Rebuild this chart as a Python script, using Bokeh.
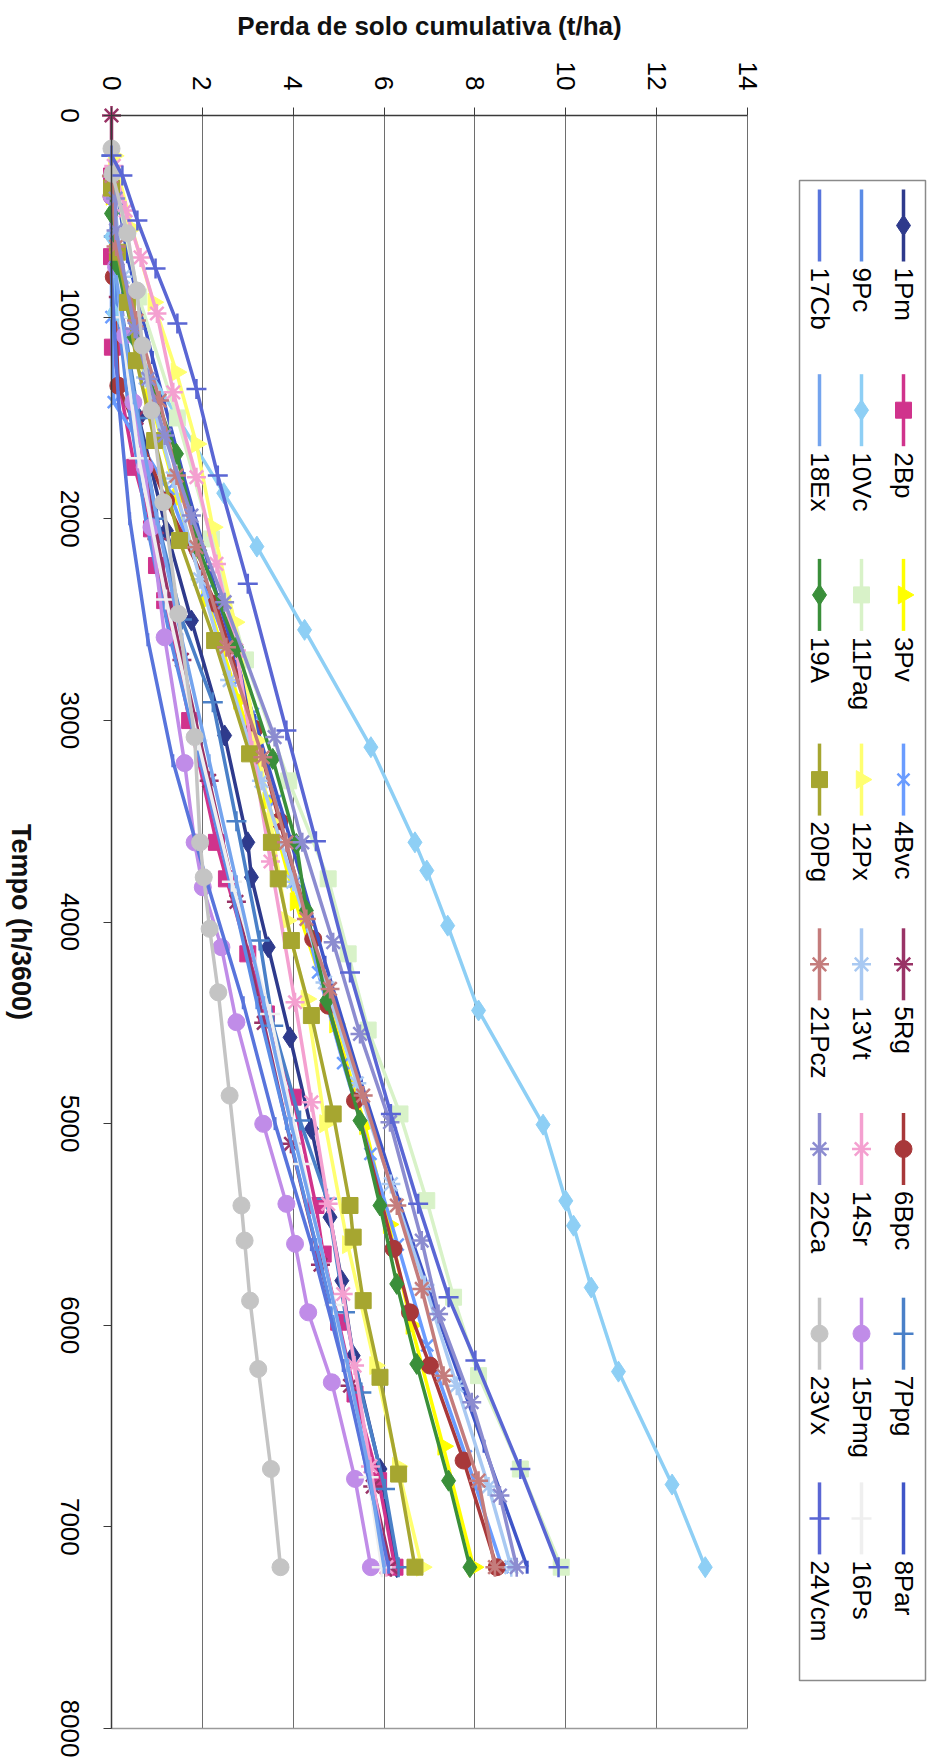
import math
from bokeh.plotting import figure
from bokeh.models import Range1d, FixedTicker, LinearAxis
from bokeh.embed import file_html
from bokeh.resources import INLINE
from bokeh.core.properties import value

# ---------------- data ----------------
NAMES = ["1Pm", "2Bp", "3Pv", "4Bvc", "5Rg", "6Bpc", "7Ppg", "8Par",
         "9Pc", "10Vc", "11Pag", "12Px", "13Vt", "14Sr", "15Pmg", "16Ps",
         "17Cb", "18Ex", "19A", "20Pg", "21Pcz", "22Ca", "23Vx", "24Vcm"]

T01 = [300, 700, 1100, 1500, 2059, 2505, 3075, 3605, 3778, 4125, 4572, 5026, 5464, 5779, 6151, 6713, 7200]
V01 = [0.0, 0.05, 0.25, 0.6, 1.21, 1.76, 2.49, 3.0, 3.08, 3.45, 3.93, 4.40, 4.81, 5.07, 5.32, 5.91, 6.28]
T02 = [300, 700, 1149, 1745, 2050, 2232, 2406, 3001, 3605, 3786, 4158, 4456, 4869, 5406, 5647, 5985, 6341, 6771, 7200]
V02 = [0.0, 0.0, 0.02, 0.51, 0.88, 0.99, 1.17, 1.72, 2.31, 2.53, 3.0, 3.41, 4.0, 4.5, 4.66, 5.0, 5.36, 5.88, 6.24]
T03 = [400, 900, 1400, 1900, 2400, 2900, 3400, 3900, 4506, 5010, 5500, 6000, 6600, 7200]
V03 = [0.0, 0.3, 0.85, 1.45, 2.1, 2.8, 3.45, 4.05, 4.92, 5.58, 6.1, 6.6, 7.3, 7.97]
T04 = [400, 1000, 1422, 1852, 2356, 2794, 2968, 3400, 3800, 4250, 4700, 5150, 5600, 6100, 6650, 7200]
V04 = [0.0, 0.0, 0.05, 1.25, 2.09, 2.82, 3.11, 3.6, 4.05, 4.55, 5.1, 5.7, 6.3, 6.95, 7.8, 8.6]
T05 = [0, 300, 900, 1500, 2100, 2700, 3300, 3900, 4500, 5100, 5700, 6300, 6800, 7200]
V05 = [0.0, 0.0, 0.15, 0.55, 1.0, 1.55, 2.15, 2.75, 3.35, 3.95, 4.6, 5.25, 5.75, 6.15]
T06 = [400, 800, 1340, 1910, 2422, 3042, 3500, 4084, 4415, 4886, 5621, 5936, 6200, 6671, 7200]
V06 = [0.0, 0.05, 0.15, 1.2, 2.3, 3.15, 3.7, 4.44, 4.77, 5.36, 6.21, 6.57, 7.01, 7.75, 8.48]
T07 = [200, 600, 1000, 1500, 2000, 2500, 2910, 3500, 4092, 4514, 4985, 5373, 5936, 6333, 6812, 7200]
V07 = [0.0, 0.05, 0.25, 0.6, 1.0, 1.55, 2.23, 2.75, 3.26, 3.56, 4.15, 4.74, 5.14, 5.5, 6.02, 6.32]
T08 = [200, 700, 1200, 1800, 2400, 3000, 3600, 4200, 4800, 5400, 6000, 6600, 7200]
V08 = [0.0, 0.35, 0.9, 1.6, 2.35, 3.15, 3.95, 4.7, 5.5, 6.35, 7.25, 8.2, 9.15]
T09 = [200, 800, 1400, 2000, 2600, 3200, 3800, 4400, 5000, 5600, 6200, 6700, 7200]
V09 = [0.0, 0.05, 0.35, 0.75, 1.3, 1.95, 2.6, 3.2, 3.85, 4.5, 5.15, 5.6, 6.05]
T10 = [300, 600, 980, 1873, 2138, 2551, 3133, 3605, 3745, 4018, 4439, 5005, 5383, 5506, 5813, 6230, 6790, 7200]
V10 = [0.0, 0.0, 0.05, 2.47, 3.2, 4.25, 5.71, 6.68, 6.94, 7.4, 8.08, 9.5, 10.0, 10.17, 10.56, 11.16, 12.34, 13.07]
T11 = [300, 900, 1500, 2100, 2700, 3300, 3786, 4158, 4536, 4952, 5382, 5861, 6250, 6713, 7200]
V11 = [0.05, 0.6, 1.45, 2.2, 2.95, 3.9, 4.77, 5.21, 5.65, 6.35, 6.94, 7.53, 8.08, 9.0, 9.9]
T12 = [200, 560, 926, 1273, 1629, 2042, 2513, 3100, 3500, 3993, 4382, 5000, 5600, 6200, 6700, 7200]
V12 = [0.05, 0.45, 0.92, 1.43, 1.87, 2.23, 2.71, 3.2, 3.5, 3.85, 4.29, 4.7, 5.2, 5.8, 6.3, 6.83]
T13 = [300, 800, 1300, 1800, 2300, 2800, 3300, 3800, 4300, 4800, 5300, 5800, 6300, 6800, 7200]
V13 = [0.0, 0.25, 0.75, 1.35, 1.95, 2.6, 3.3, 4.0, 4.7, 5.4, 6.15, 6.9, 7.6, 8.3, 8.8]
T14 = [250, 471, 704, 982, 1373, 1794, 2224, 2654, 3150, 3700, 4398, 4894, 5398, 5845, 6200, 6700, 7200]
V14 = [0.05, 0.31, 0.64, 1.0, 1.36, 1.87, 2.31, 2.75, 3.1, 3.5, 4.04, 4.40, 4.77, 5.1, 5.35, 5.7, 6.05]
T15 = [400, 750, 1092, 1422, 1745, 2042, 2588, 3212, 3605, 3828, 4125, 4497, 5001, 5398, 5596, 5936, 6283, 6762, 7200]
V15 = [0.0, 0.1, 0.29, 0.48, 0.73, 0.88, 1.17, 1.61, 1.83, 2.01, 2.42, 2.75, 3.34, 3.85, 4.04, 4.33, 4.85, 5.36, 5.71]
T16 = [300, 1000, 1700, 2400, 3100, 3800, 4456, 5200, 5900, 6754, 7200]
V16 = [0.0, 0.2, 0.6, 1.2, 1.9, 2.65, 3.49, 4.2, 4.9, 5.66, 5.95]
T17 = [200, 800, 1400, 2000, 2600, 3200, 3800, 4400, 5000, 5600, 6200, 6700, 7200]
V17 = [0.0, 0.0, 0.15, 0.4, 0.8, 1.35, 2.1, 2.9, 3.6, 4.4, 5.1, 5.6, 6.1]
T18 = [200, 800, 1400, 2000, 2600, 3200, 3800, 4400, 5000, 5600, 6200, 6700, 7200]
V18 = [0.0, 0.1, 0.5, 1.0, 1.55, 2.15, 2.75, 3.35, 3.95, 4.6, 5.2, 5.65, 6.0]
T19 = [362, 486, 739, 1100, 1678, 2158, 2637, 3191, 3613, 3943, 4390, 4985, 5406, 5795, 6192, 6771, 7200]
V19 = [0.0, 0.0, 0.12, 0.5, 1.43, 1.94, 2.75, 3.55, 4.07, 4.29, 4.74, 5.47, 5.91, 6.28, 6.72, 7.42, 7.89]
T20 = [360, 678, 927, 1216, 1612, 2108, 2604, 3166, 3605, 3786, 4092, 4464, 4952, 5406, 5563, 5878, 6258, 6738, 7200]
V20 = [0.0, 0.13, 0.35, 0.55, 0.95, 1.5, 2.27, 3.04, 3.52, 3.67, 3.96, 4.40, 4.88, 5.25, 5.32, 5.54, 5.91, 6.32, 6.68]
T21 = [300, 650, 1017, 1414, 1786, 2141, 2637, 3183, 3605, 3985, 4332, 4861, 5406, 5820, 6250, 6771, 7200]
V21 = [0.0, 0.1, 0.55, 1.06, 1.43, 1.87, 2.53, 3.33, 3.85, 4.29, 4.81, 5.54, 6.28, 6.83, 7.31, 8.08, 8.44]
T22 = [412, 570, 1058, 1306, 1587, 1984, 2414, 3083, 3605, 4100, 4555, 4993, 5580, 5944, 6382, 6845, 7200]
V22 = [0.09, 0.1, 0.51, 0.81, 1.17, 1.76, 2.49, 3.59, 4.2, 4.88, 5.47, 6.13, 6.83, 7.2, 7.93, 8.55, 8.92]
T23 = [164, 289, 584, 868, 1141, 1463, 1918, 2472, 3083, 3605, 3778, 4034, 4349, 4861, 5406, 5580, 5878, 6217, 6713, 7200]
V23 = [0.0, 0.02, 0.35, 0.56, 0.68, 0.88, 1.14, 1.47, 1.83, 1.95, 2.03, 2.16, 2.35, 2.6, 2.86, 2.93, 3.05, 3.23, 3.51, 3.72]
T24 = [198, 298, 521, 759, 1032, 1356, 1786, 2323, 3050, 3600, 4250, 4952, 5398, 5861, 6175, 6713, 7200]
V24 = [0.0, 0.24, 0.57, 0.97, 1.45, 1.87, 2.34, 3.0, 3.85, 4.5, 5.25, 6.15, 6.75, 7.42, 8.01, 9.0, 9.84]

TIMES = [T01, T02, T03, T04, T05, T06, T07, T08, T09, T10, T11, T12,
         T13, T14, T15, T16, T17, T18, T19, T20, T21, T22, T23, T24]
VALUES = [V01, V02, V03, V04, V05, V06, V07, V08, V09, V10, V11, V12,
          V13, V14, V15, V16, V17, V18, V19, V20, V21, V22, V23, V24]

X_TICKS = [0, 2, 4, 6, 8, 10, 12, 14]
Y_TICKS = [0, 1000, 2000, 3000, 4000, 5000, 6000, 7000, 8000]
X_TITLE = "Perda de solo cumulativa (t/ha)"
Y_TITLE = "Tempo (h/3600)"

# ---------------- styles ----------------
COLORS = ["#2E3A8C", "#D0338C", "#FFFF00", "#6A9CFF", "#993366", "#A8383A",
          "#4A80C8", "#3F55C8", "#5B8CE6", "#8ECFF5", "#D8F2C8", "#FFFF70",
          "#A9C9F2", "#F4A0D0", "#C08CE8", "#EFEFEF", "#5874DC", "#74A4EE",
          "#3A8F3A", "#A6A630", "#C47C7C", "#8C8CD0", "#C4C4C4", "#5A66D4"]
MARKERS = ["diamond", "square", "triangle", "x", "asterisk", "circle",
           "cross", "dash", "dash", "diamond", "square", "triangle",
           "asterisk", "asterisk", "circle", "cross", "dash", "dash",
           "diamond", "square", "asterisk", "asterisk", "circle", "cross"]
SIZES = {"diamond": 21, "square": 16, "triangle": 18, "x": 17, "asterisk": 19,
         "circle": 17, "cross": 20, "dash": 13}
ANGLES = {"triangle": -math.pi / 2, "dash": math.pi / 2}
LINE_MARKERS = {"x", "asterisk", "cross", "dash"}

FONT = "Liberation Sans"
TICK_FS = 26

# ---------------- layout (page pixels; the frame covers the whole canvas) ----------------
CANVAS_W, CANVAS_H = 931, 1760
PLOT_L, PLOT_T = 111, 115           # page position of value 0 / time 0
PLOT_W, PLOT_H = 636, 1613          # plot area (0..14, 0..8000)
PX_PER_V = PLOT_W / X_TICKS[-1]
PX_PER_T = PLOT_H / Y_TICKS[-1]

p = figure(frame_width=CANVAS_W, frame_height=CANVAS_H,
           min_border_left=0, min_border_top=0, min_border_right=0, min_border_bottom=0,
           x_range=Range1d(-PLOT_L / PX_PER_V, (CANVAS_W - PLOT_L) / PX_PER_V),
           y_range=Range1d((CANVAS_H - PLOT_T) / PX_PER_T, -PLOT_T / PX_PER_T),
           x_axis_location="above",
           output_backend="svg", toolbar_location=None)
p.background_fill_color = "white"
p.border_fill_color = "white"
p.outline_line_color = None
p.extra_x_ranges = {"px": Range1d(0, CANVAS_W)}
p.extra_y_ranges = {"py": Range1d(CANVAS_H, 0)}
R = dict(x_range_name="px", y_range_name="py")

# vertical grid lines, limited to the plot area
p.ygrid.grid_line_color = None
grid_ok = True
try:
    p.xgrid.cross_bounds = (Y_TICKS[0], Y_TICKS[-1])
except Exception:
    grid_ok = False
if grid_ok:
    p.xgrid.ticker = FixedTicker(ticks=X_TICKS)
    p.xgrid.grid_line_color = "#6E6E6E"
    p.xgrid.grid_line_width = 1
else:
    p.xgrid.grid_line_color = None
    p.segment(x0=X_TICKS, y0=[Y_TICKS[0]] * len(X_TICKS), x1=X_TICKS,
              y1=[Y_TICKS[-1]] * len(X_TICKS), line_color="#6E6E6E", line_width=1)

# bottom border of the plot area
p.segment(x0=[X_TICKS[0]], y0=[Y_TICKS[-1]], x1=[X_TICKS[-1]], y1=[Y_TICKS[-1]],
          line_color="#9A9A9A", line_width=1.5)

# top axis (Perda de solo), pinned at time 0
xa = p.xaxis[0]
xa.fixed_location = Y_TICKS[0]
xa.ticker = FixedTicker(ticks=X_TICKS)
xa.bounds = (X_TICKS[0], X_TICKS[-1])
xa.major_label_orientation = -math.pi / 2
xa.major_label_text_font = FONT
xa.major_label_text_font_size = f"{TICK_FS}px"
xa.major_label_text_color = "black"
xa.major_label_standoff = 17

# left axis (Tempo): line + tick marks, pinned at value 0
ya = p.yaxis[0]
ya.fixed_location = X_TICKS[0]
ya.ticker = FixedTicker(ticks=Y_TICKS)
ya.bounds = (Y_TICKS[0], Y_TICKS[-1])
ya.major_label_text_font_size = "1px"
ya.major_label_text_color = None
ya.major_label_standoff = 0

for ax in (xa, ya):
    ax.axis_line_color = "#3A3A3A"
    ax.axis_line_width = 1.5
    ax.major_tick_line_color = "#3A3A3A"
    ax.major_tick_out = 8
    ax.major_tick_in = 0
    ax.minor_tick_line_color = None

# Tempo tick labels, centred on their ticks (rotated text is end-anchored)
DIGIT_W = 0.556 * TICK_FS
LBL_TICKS, LBL_OVR = [], {}
for v in Y_TICKS:
    s = str(v)
    tv = round(v + len(s) * DIGIT_W / 2 / PX_PER_T, 3)
    LBL_TICKS.append(tv)
    LBL_OVR[tv] = s
yl = LinearAxis(ticker=FixedTicker(ticks=LBL_TICKS), major_label_overrides=LBL_OVR,
                fixed_location=X_TICKS[0])
yl.axis_line_color = None
yl.major_tick_line_color = None
yl.minor_tick_line_color = None
yl.major_tick_out = 0
yl.major_tick_in = 0
yl.major_label_orientation = -math.pi / 2
yl.major_label_text_font = FONT
yl.major_label_text_font_size = f"{TICK_FS}px"
yl.major_label_text_color = "black"
yl.major_label_standoff = 42
p.add_layout(yl, "left")

# axis titles
p.text(x=[PLOT_L + PLOT_W / 2], y=[25], text=[X_TITLE], text_align="center",
       text_baseline="middle", text_font=value(FONT), text_font_style="bold",
       text_font_size="26px", text_color="#111111", **R)
p.text(x=[20], y=[PLOT_T + PLOT_H / 2], text=[Y_TITLE], angle=-math.pi / 2,
       text_align="center", text_baseline="middle", text_font=value(FONT),
       text_font_style="bold", text_font_size="27px", text_color="#111111", **R)

# series
for i in range(24):
    c = COLORS[i]
    m = MARKERS[i]
    p.line(x=VALUES[i], y=TIMES[i], line_color=c, line_width=3.5)
    if m in LINE_MARKERS:
        p.scatter(x=VALUES[i], y=TIMES[i], marker=m, size=SIZES[m],
                  angle=ANGLES.get(m, 0.0), line_color=c,
                  line_width=3 if m == "dash" else 2.5)
    else:
        p.scatter(x=VALUES[i], y=TIMES[i], marker=m, size=SIZES[m],
                  angle=ANGLES.get(m, 0.0), fill_color=c, line_color=c,
                  line_width=1)

# ---------------- legend (rotated, drawn in page-pixel coordinates) ----------------
p.quad(left=[799], right=[925], top=[180], bottom=[1680],
       fill_color=None, line_color="#8A8A8A", line_width=1.5, **R)

ROW_X = [903, 861, 819]
for i in range(24):
    r, k = i // 8, i % 8
    cx = ROW_X[r]
    cy = 225 + 184.7 * k
    c = COLORS[i]
    m = MARKERS[i]
    p.segment(x0=[cx], y0=[cy - 36], x1=[cx], y1=[cy + 36], line_color=c, line_width=3.5, **R)
    if m in LINE_MARKERS:
        p.scatter(x=[cx], y=[cy], marker=m, size=SIZES[m], angle=ANGLES.get(m, 0.0),
                  line_color=c, line_width=3 if m == "dash" else 2.5, **R)
    else:
        p.scatter(x=[cx], y=[cy], marker=m, size=SIZES[m], angle=ANGLES.get(m, 0.0),
                  fill_color=c, line_color=c, line_width=1, **R)
    p.text(x=[cx], y=[cy + 42], text=[NAMES[i]], angle=-math.pi / 2,
           text_align="left", text_baseline="middle",
           text_font=value(FONT), text_font_size="26px", text_color="black", **R)

open("out.html", "w").write(file_html(p, INLINE))
